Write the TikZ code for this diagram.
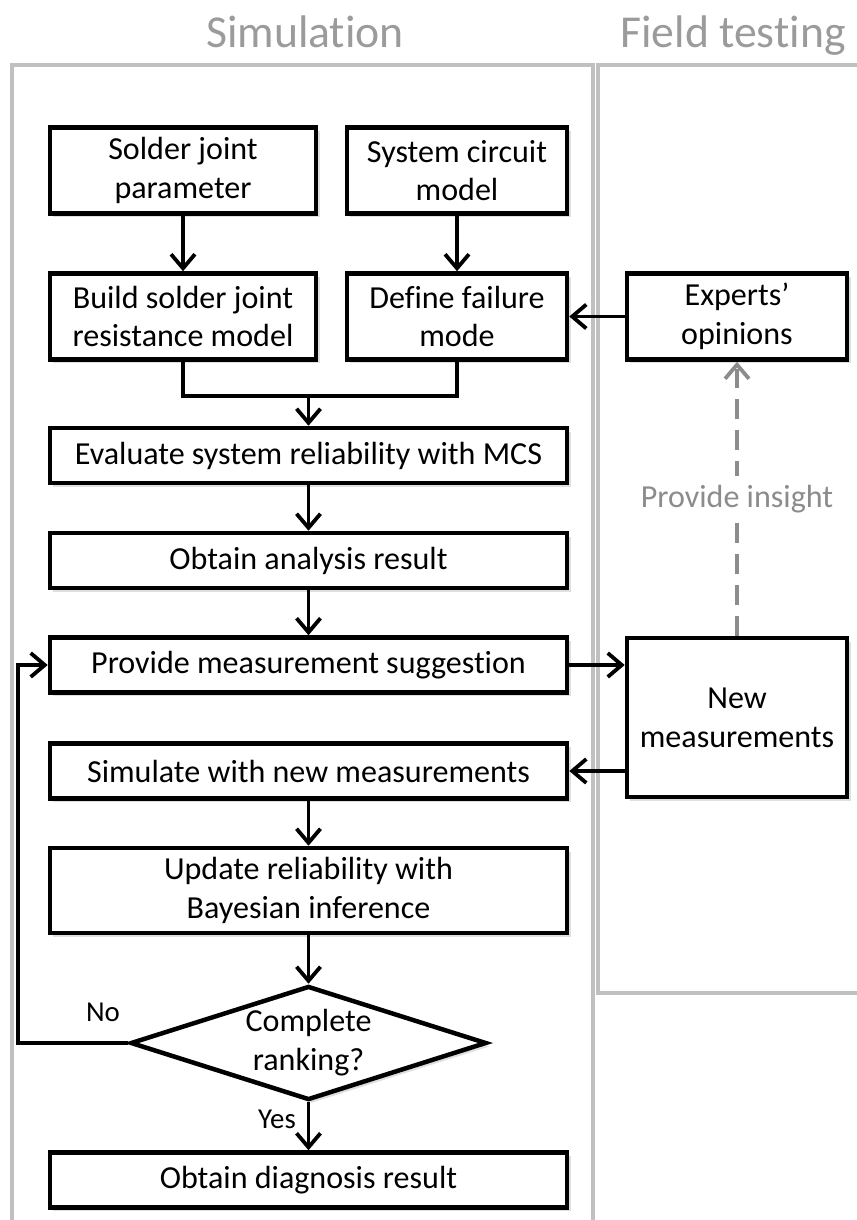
\documentclass[tikz,border=0pt]{standalone}
\usepackage{fontspec}
\setmainfont{Carlito}[Ligatures=NoCommon]
\usetikzlibrary{arrows.meta, positioning, shapes.geometric, shadows}
\definecolor{lanegray}{RGB}{192,192,192}
\definecolor{titlegray}{RGB}{155,155,155}
\definecolor{insightgray}{RGB}{140,140,140}
\tikzset{
  state/.style={
    draw,
    rectangle,
    line width=3.2pt,
    fill=white,
    align=center,
    inner sep=0pt,
    font=\fontsize{22.8}{27.6}\selectfont,
    drop shadow={shadow xshift=2.5pt, shadow yshift=-2.5pt, opacity=0.25},
  },
  widestate/.style={
    state,
    minimum width=12.925cm,
    minimum height=1.375cm
  },
  leftstate/.style={
    state,
    minimum width=6.65cm,
    minimum height=2.15cm
  },
  rightstate/.style={
    state,
    minimum width=5.5cm,
    minimum height=2.15cm
  },
  decision/.style={
    state,
    diamond,
    aspect=3.1,
    minimum width=8.9cm,
    minimum height=2.85cm
  },
  arrow/.style={
    -{Straight Barb[length=10pt, width=17pt, line width=2.7pt]},
    line width=2.7pt
  },
  insight/.style={
    -{Straight Barb[length=10pt, width=17pt, line width=2.7pt]},
    line width=2.7pt,
    draw=insightgray,
    dash pattern=on 14pt off 8pt
  },
  lane/.style={
    draw=lanegray,
    line width=3.5pt
  },
  lanetitle/.style={
    text=titlegray,
    anchor=base,
    font=\fontsize{32.5}{36}\selectfont
  },
  lbl/.style={
    font=\fontsize{20.5}{24}\selectfont
  }
}

\begin{document}
\begin{tikzpicture}[x=0.025cm, y=-0.025cm]
  \useasboundingbox (0,0) rectangle (856,1220);

  % Bandes
  \draw[lane] (12,1240) -- (12,65) -- (593,65) -- (593,1240);
  \draw[lane] (880,65) -- (598,65) -- (598,993) -- (880,993);
  \node[lanetitle] (simtitle) at (305,48) {Simulation};
  \node[lanetitle] (fieldtitle) at (733,48) {Field testing};

  % Etats
  \node[leftstate] (solder) at (183,170.5) {Solder joint\\parameter};
  \node[rightstate] (circuit) at (457,170.5) {System circuit\\model};
  \node[leftstate] (build) at (183,316.5) {Build solder joint\\resistance model};
  \node[rightstate] (define) at (457,316.5) {Define failure\\mode};
  \node[rightstate] (experts) at (737,316.5) {Experts'\\opinions};
  \node[widestate] (evaluate) at (308.5,455.5) {Evaluate system reliability with MCS};
  \node[widestate] (analysis) at (308.5,560.5) {Obtain analysis result};
  \node[widestate] (suggest) at (308.5,665) {Provide measurement suggestion};
  \node[rightstate, minimum height=3.975cm] (newmeas) at (737,717.5) {New\\measurements};
  \node[widestate] (simulate) at (308.5,771) {Simulate with new measurements};
  \node[widestate, minimum height=2.125cm] (update) at (308.5,890.5) {Update reliability with\\Bayesian inference};
  \node[decision] (ranking) at (308.5,1043) {Complete\\ranking?};
  \node[widestate] (diagnosis) at (308.5,1180) {Obtain diagnosis result};
  \node[lbl] (no) at (103,1012) {No};
  \node[lbl] (yes) at (277,1119) {Yes};
  \coordinate (merge) at (308.5,396);

  % Fleches
  \draw[arrow] (solder) -- (build);
  \draw[arrow] (circuit) -- (define);
  \draw[arrow] (experts) -- (define);
  \draw[line width=2.7pt] (build.south) |- (merge) -| (define.south);
  \draw[arrow] (merge) -- (evaluate);
  \draw[arrow] (evaluate) -- (analysis);
  \draw[arrow] (analysis) -- (suggest);
  \draw[arrow] (suggest.east) -- (suggest.east -| newmeas.west);
  \draw[arrow] (newmeas.west |- simulate.east) -- (simulate.east);
  \draw[arrow] (simulate) -- (update);
  \draw[arrow] (update) -- (ranking);
  \draw[arrow] (ranking) -- (diagnosis);
  \draw[arrow] (ranking.west) -- ++(-110,0) |- (suggest.west);

  % Retour terrain
  \draw[insight] (newmeas) -- node[fill=white, text=insightgray, font=\fontsize{22.8}{27.6}\selectfont, inner ysep=6pt] {Provide insight} (experts);

\end{tikzpicture}
\end{document}
